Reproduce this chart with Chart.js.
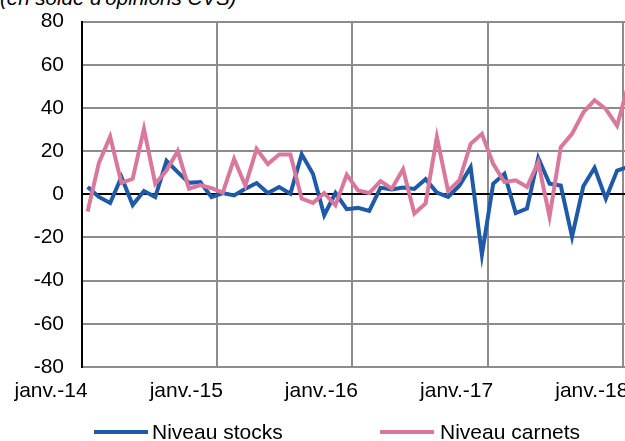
<!DOCTYPE html>
<html>
<head>
<meta charset="utf-8">
<script src="https://cdn.jsdelivr.net/npm/chart.js@4"></script>
<style>
body { margin:0; width:625px; height:441px; overflow:hidden; position:relative; background:#fff;
       font-family: Arial, "Liberation Sans", sans-serif; }
#wrap { position:absolute; left:0; top:-9px; width:660px; height:450px; }
#title { position:absolute; left:0; top:-12px; font-size:20.5px; line-height:20px; font-style:italic; white-space:nowrap; }
.legLine { position:absolute; top:430px; width:54px; height:4px; }
.legText { position:absolute; top:422px; font-size:21px; line-height:20px; white-space:nowrap; }
</style>
</head>
<body>
<div id="title">(en solde d'opinions CVS)</div>
<div id="wrap"><canvas id="chart"></canvas></div>
<div class="legLine" style="left:94px;background:#1f5aa8"></div>
<div class="legText" style="left:152px">Niveau stocks</div>
<div class="legLine" style="left:380px;background:#d9789c"></div>
<div class="legText" style="left:440px">Niveau carnets</div>
<script>
let years = ["14", "15", "16", "17", "18"];
let monthNames = ["janv.", "févr.", "mars", "avr.", "mai", "juin", "juil.", "août", "sept.", "oct.", "nov.", "déc."];

let stocks = [3.4, -1.2, -4, 8, -5, 1.5, -1.3, 15.5, 10.3, 5.3, 5.7, -1.3,
    0.6, -0.5, 2.6, 5.2, 0.6, 3.4, 0.3, 18.5, 9.5, -9.7, 0.6, -6.9,
    -6.3, -7.7, 3.1, 2.2, 3.1, 2.5, 7, 0.8, -1.2, 4, 12.6, -28,
    4.9, 9.5, -8.7, -6.6, 16.9, 4.9, 4.1, -19.7, 3.7, 12.3, -2, 11,
    12.7];
let carnets = [-8, 14.5, 26.7, 5.3, 7.2, 30.3, 4.9, 11, 20, 2.6, 4.3, 2.8,
    0.8, 16.4, 4, 21, 14, 18.4, 18.4, -2, -4, 0.6, -5.1, 9.1,
    1.8, 0.6, 6.1, 2.6, 11.6, -8.9, -4.2, 26.5, 1.4, 6.5, 23.4, 28,
    14.1, 5.7, 6.5, 3.4, 14.9, -10.4, 21.8, 28, 37.9, 43.6, 39.5, 31.8,
    51];

// monthly categories, janv.-14 onwards
let categories = [];
years.forEach(y => monthNames.forEach(m => categories.push(m + "-" + y)));
categories = categories.slice(0, stocks.length);

const gray = "#8c8c8c";
const font = { family: 'Arial, "Liberation Sans", sans-serif', size: 21 };

new Chart(document.getElementById("chart"), {
    type: "line",
    data: {
        labels: categories,
        datasets: [
            { label: "Niveau stocks", data: stocks, borderColor: "#1f5aa8", borderWidth: 4, pointRadius: 0, tension: 0, order: 1 },
            { label: "Niveau carnets", data: carnets, borderColor: "#d9789c", borderWidth: 4, pointRadius: 0, tension: 0, order: 0 }
        ]
    },
    options: {
        responsive: true,
        maintainAspectRatio: false,
        animation: false,
        layout: { padding: { top: 13, left: 0, right: 26, bottom: 0 } },
        plugins: { legend: { display: false }, tooltip: { enabled: false } },
        scales: {
            x: {
                type: "category",
                offset: true,
                afterFit: s => { s.height = 74; },
                grid: {
                    offset: true,
                    drawTicks: false,
                    lineWidth: 2,
                    color: c => (c.index % 12 === 0 ? gray : "transparent")
                },
                border: { color: gray, width: 2 },
                ticks: {
                    autoSkip: false, maxRotation: 0, minRotation: 0,
                    align: "end", padding: 12, color: "#000", font: font,
                    callback: (v, i) => (i % 12 === 0 ? categories[i] : "")
                }
            },
            y: {
                min: -80, max: 80,
                afterFit: s => { s.width = 82; },
                grid: {
                    drawTicks: false,
                    lineWidth: 2,
                    color: c => (c.tick && c.tick.value === 0 ? "#000" : gray)
                },
                border: { color: "#000", width: 2 },
                ticks: { stepSize: 20, padding: 18, color: "#000", font: font }
            }
        }
    }
});
</script>
</body>
</html>
